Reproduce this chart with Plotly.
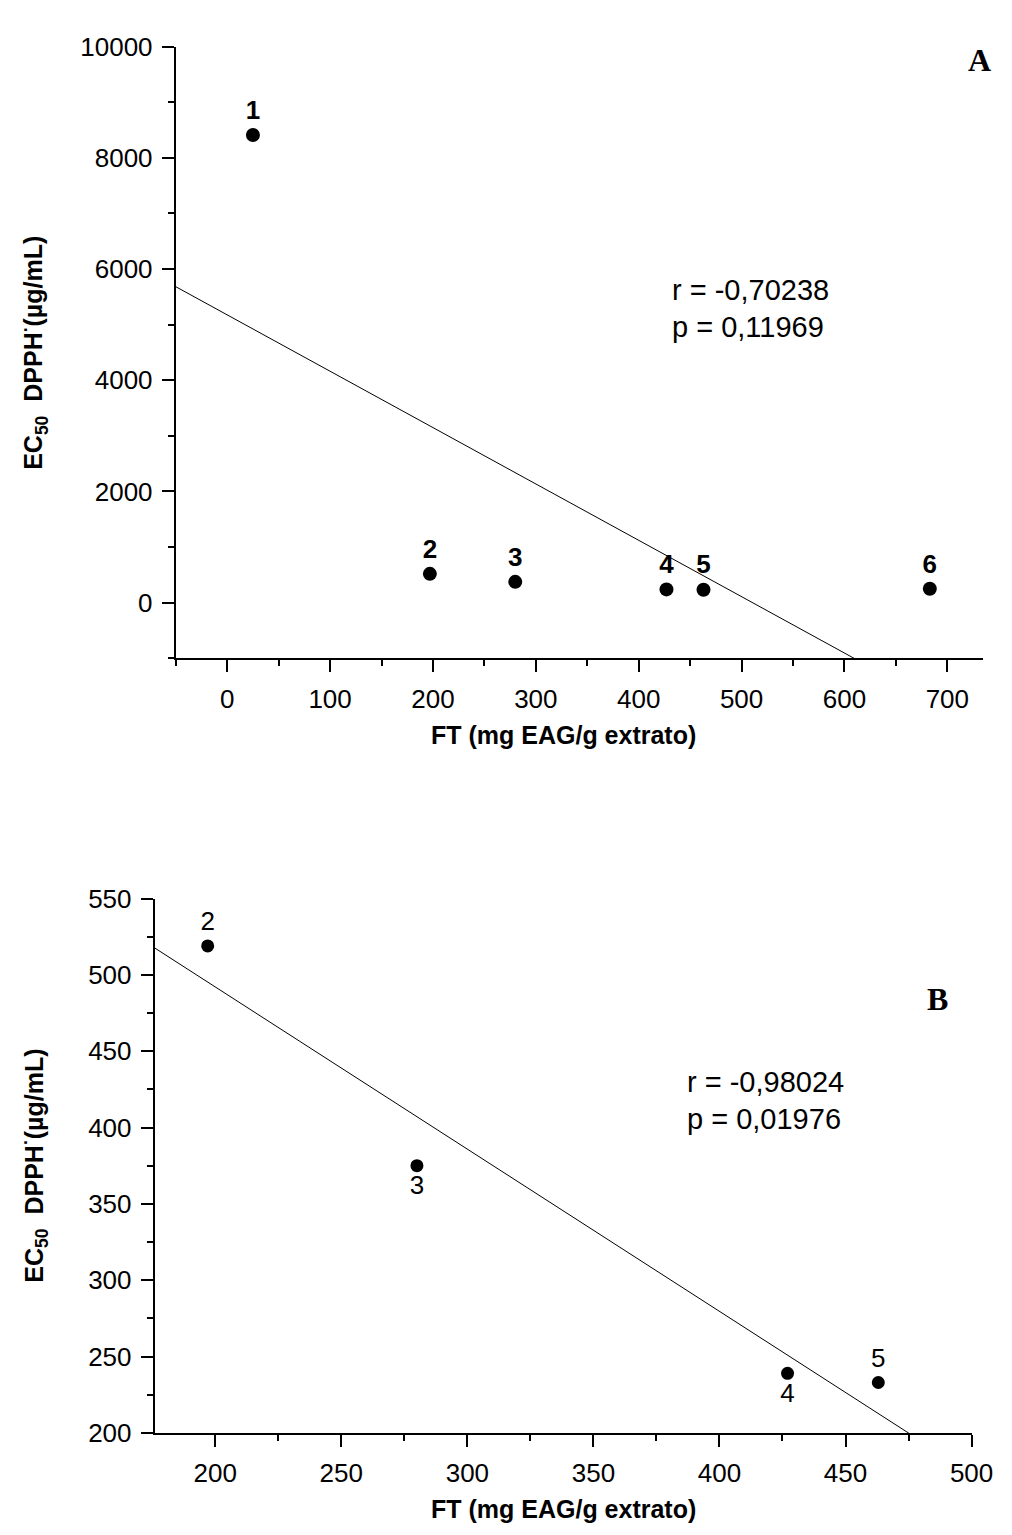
import numpy as np
import plotly.graph_objects as go

# ---------------- data ----------------
ft_all = [25, 197, 280, 427, 463, 683]          # FT (mg EAG/g extrato)
ec50_all = [8410, 519, 375, 239, 233, 250]       # EC50 DPPH (ug/mL)
labels_all = ["1", "2", "3", "4", "5", "6"]

ft_sub = [197, 280, 427, 463]
ec50_sub = [519, 375, 239, 233]
labels_sub = ["2", "3", "4", "5"]
label_pos_sub = ["top center", "bottom center", "bottom center", "top center"]

stats_a = ["r = -0,70238", "p = 0,11969"]
stats_b = ["r = -0,98024", "p = 0,01976"]

xticks_a = [0, 100, 200, 300, 400, 500, 600, 700]
yticks_a = [0, 2000, 4000, 6000, 8000, 10000]
xticks_b = [200, 250, 300, 350, 400, 450, 500]
yticks_b = [200, 250, 300, 350, 400, 450, 500, 550]

W, H = 1012, 1535
FONT = "Arial, Liberation Sans, sans-serif"


def px(x):
    return x / W


def py(y):
    return 1 - y / H


xr_a = [-50, 735]
yr_a = [-1000, 10000]
xr_b = [176, 500]
yr_b = [200, 550]

fig = go.Figure()

# regression lines (least squares through the data)
ka, ba = np.polyfit(ft_all, ec50_all, 1)
xa_line = np.array(xr_a, dtype=float)
fig.add_trace(go.Scatter(x=xa_line, y=ka * xa_line + ba, mode="lines",
                         line=dict(color="black", width=1), xaxis="x", yaxis="y",
                         showlegend=False, hoverinfo="skip"))
fig.add_trace(go.Scatter(x=ft_all, y=ec50_all, mode="markers+text", text=labels_all,
                         textposition="top center",
                         textfont=dict(family=FONT, size=26, color="black", weight="bold"),
                         marker=dict(color="black", size=14), xaxis="x", yaxis="y",
                         showlegend=False, cliponaxis=False))

kb, bb = np.polyfit(ft_sub, ec50_sub, 1)
xb_line = np.array(xr_b, dtype=float)
fig.add_trace(go.Scatter(x=xb_line, y=kb * xb_line + bb, mode="lines",
                         line=dict(color="black", width=1), xaxis="x2", yaxis="y2",
                         showlegend=False, hoverinfo="skip"))
fig.add_trace(go.Scatter(x=ft_sub, y=ec50_sub, mode="markers+text", text=labels_sub,
                         textposition=label_pos_sub,
                         textfont=dict(family=FONT, size=26, color="black"),
                         marker=dict(color="black", size=13), xaxis="x2", yaxis="y2",
                         showlegend=False, cliponaxis=False))

axis_common = dict(showline=True, linecolor="black", linewidth=2, ticks="outside",
                   ticklen=12, tickwidth=2, tickcolor="black", showgrid=False,
                   zeroline=False, mirror=False, ticklabelstandoff=4,
                   tickfont=dict(family=FONT, size=26, color="black"))

fig.update_layout(
    width=W, height=H, margin=dict(l=0, r=0, t=0, b=0),
    paper_bgcolor="white", plot_bgcolor="white",
    xaxis=dict(axis_common, domain=[px(171.5), px(997)], range=xr_a,
               tickvals=xticks_a, anchor="y",
               minor=dict(ticks="outside", ticklen=6, tickwidth=2, tickcolor="black", dtick=50, tick0=0)),
    yaxis=dict(axis_common, domain=[py(648), py(24)], range=yr_a,
               tickvals=yticks_a, tickformat="d", anchor="x",
               minor=dict(ticks="outside", ticklen=6, tickwidth=2, tickcolor="black", dtick=1000, tick0=0)),
    xaxis2=dict(axis_common, domain=[px(150), px(985)], range=xr_b,
                tickvals=xticks_b, anchor="y2",
                minor=dict(ticks="outside", ticklen=6, tickwidth=2, tickcolor="black", dtick=25, tick0=0)),
    yaxis2=dict(axis_common, domain=[py(1438), py(893)], range=yr_b,
                tickvals=yticks_b, anchor="x2",
                minor=dict(ticks="outside", ticklen=6, tickwidth=2, tickcolor="black", dtick=25, tick0=0)),
)

ytitle = "EC<sub>50</sub>  DPPH<sup>·</sup>(µg/mL)"
xtitle = "FT (mg EAG/g extrato)"
ann = []
# axis titles
ann.append(dict(x=px(27), y=py(336), text=ytitle, textangle=-90, showarrow=False,
                xref="paper", yref="paper", xanchor="center", yanchor="middle",
                font=dict(family=FONT, size=25, color="black", weight="bold")))
ann.append(dict(x=px(568), y=py(726), text=xtitle, showarrow=False,
                xref="paper", yref="paper", xanchor="center", yanchor="middle",
                font=dict(family=FONT, size=25, color="black", weight="bold")))
ann.append(dict(x=px(27), y=py(1165), text=ytitle, textangle=-90, showarrow=False,
                xref="paper", yref="paper", xanchor="center", yanchor="middle",
                font=dict(family=FONT, size=25, color="black", weight="bold")))
ann.append(dict(x=px(568), y=py(1516), text=xtitle, showarrow=False,
                xref="paper", yref="paper", xanchor="center", yanchor="middle",
                font=dict(family=FONT, size=25, color="black", weight="bold")))
# panel letters
ann.append(dict(x=px(993), y=py(38), text="<b>A</b>", showarrow=False,
                xref="paper", yref="paper", xanchor="center", yanchor="middle",
                font=dict(family="Liberation Serif, Times New Roman, serif", size=32, color="black")))
ann.append(dict(x=px(950), y=py(995), text="<b>B</b>", showarrow=False,
                xref="paper", yref="paper", xanchor="center", yanchor="middle",
                font=dict(family="Liberation Serif, Times New Roman, serif", size=32, color="black")))
# statistics text
for i, t in enumerate(stats_a):
    ann.append(dict(x=px(677), y=py(272 + 38 * i), text=t, showarrow=False,
                    xref="paper", yref="paper", xanchor="left", yanchor="middle",
                    font=dict(family=FONT, size=29, color="black")))
for i, t in enumerate(stats_b):
    ann.append(dict(x=px(692), y=py(1080 + 38 * i), text=t, showarrow=False,
                    xref="paper", yref="paper", xanchor="left", yanchor="middle",
                    font=dict(family=FONT, size=29, color="black")))
fig.update_layout(annotations=ann)

fig.write_html("out.html")
